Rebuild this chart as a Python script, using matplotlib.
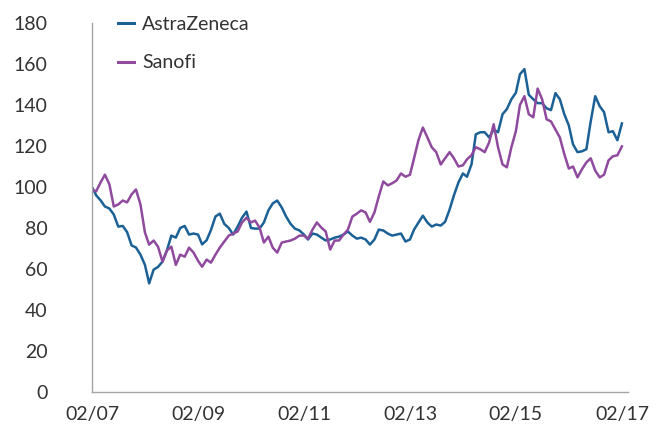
import matplotlib
matplotlib.use("Agg")
import matplotlib.pyplot as plt
import matplotlib.dates as mdates
import pandas as pd

dates = pd.date_range("2007-02-01", periods=121, freq="MS")

astrazeneca = [
    100, 96, 93.5, 90.5, 89.5, 86.6, 80.7, 81, 78, 71.5,
    70.5, 67, 62, 53, 59.7, 61, 63.6, 69, 76.3, 75.3,
    80, 81, 76.8, 77.3, 76.8, 72, 74, 79, 85.6, 87,
    82, 80, 76.8, 80.7, 85, 88, 80, 79.7, 79.7, 82.7,
    88.6, 92, 93.4, 90, 85.6, 82, 79.7, 78.8, 76.8, 74.4,
    77.3, 76.8, 75.3, 73.9, 74.4, 75.3, 75.8, 76.8, 78.3, 76.3,
    74.8, 75.3, 74.4, 71.9, 74.4, 79.2, 78.8, 77.3, 76.3, 76.8,
    77.3, 73.4, 74.4, 79.2, 82.7, 86, 82.7, 80.7, 81.7, 81.2,
    83, 89, 95.9, 102.2, 106.6, 105, 111, 125.7, 126.7, 126.7,
    124.2, 128, 126.7, 135.5, 138, 142.8, 146, 155, 157.5, 145,
    142.8, 140.9, 140.9, 138.4, 137.5, 145.8, 142.8, 135.5, 130, 120.8,
    117, 117.4, 118.4, 132, 144.3, 139.4, 136.5, 126.7, 127.2, 122.8,
    131,
]

sanofi = [
    99, 97.8, 102.2, 106, 101.3, 90.5, 91.5, 93.4, 92.5, 96.4,
    98.8, 91.5, 77.8, 71.9, 73.9, 70.9, 63.6, 69, 70.9, 62,
    67, 66, 70.4, 68, 64, 61.1, 64.6, 63.1, 67, 70.4,
    73.4, 76.3, 77.3, 78.3, 82.7, 85, 82.7, 83.6, 80.2, 72.9,
    75.8, 70.4, 68, 72.9, 73.4, 73.9, 74.8, 76.3, 76.3, 74.8,
    79.2, 82.7, 80.2, 78.3, 69.5, 73.9, 73.9, 76.8, 79.2, 85.6,
    87, 88.6, 87.6, 83, 87.6, 95.4, 102.7, 100.8, 101.8, 103.2,
    106.6, 105, 106, 114, 123, 129, 124.2, 119.4, 117, 111,
    114, 117, 114, 110, 110.6, 113.5, 115.5, 119.4, 118.4, 117,
    121.8, 130.6, 119.4, 111, 109.6, 119.4, 127.2, 140, 144.3, 135.5,
    134, 148, 142.8, 133, 132, 128, 124.2, 116, 109, 110,
    104.7, 108.6, 112, 114, 108, 104.7, 106, 113, 115, 115.5,
    119.8,
]

tick_dates = pd.date_range("2007-02-01", "2017-02-01", freq="24MS")
y_ticks = [0, 20, 40, 60, 80, 100, 120, 140, 160, 180]

plt.rcParams["font.family"] = ["Lato", "DejaVu Sans"]

fig = plt.figure(figsize=(6.58, 4.38), dpi=100)
ax = fig.add_axes([92 / 658, 1 - 392 / 438, (628 - 92) / 658, (392 - 23) / 438])

az_color = "#1b6196"
sa_color = "#8f4a9e"

ax.plot(dates, astrazeneca, color=az_color, lw=1.8, label="AstraZeneca")
ax.plot(dates, sanofi, color=sa_color, lw=1.8, label="Sanofi")

ax.set_ylim(0, 180)
ax.set_xlim(pd.Timestamp("2007-02-01"), pd.Timestamp("2017-03-15"))
ax.set_yticks(y_ticks)
ax.set_xticks(tick_dates)
ax.xaxis.set_major_formatter(mdates.DateFormatter("%m/%y"))

for s in ["top", "right"]:
    ax.spines[s].set_visible(False)
for s in ["left", "bottom"]:
    ax.spines[s].set_color("#a6a6a6")
    ax.spines[s].set_linewidth(1.0)

ax.tick_params(axis="both", length=0, labelsize=14, colors="#333333")
ax.tick_params(axis="y", pad=32)
ax.tick_params(axis="x", pad=10)

leg = ax.legend(
    loc="upper left",
    bbox_to_anchor=(118 / 658, 1 - 16 / 438),
    bbox_transform=fig.transFigure,
    frameon=False,
    fontsize=14,
    handlelength=0.8,
    handletextpad=0.45,
    labelspacing=1.1,
    borderpad=0,
    borderaxespad=0,
)
for h in leg.get_lines():
    h.set_linewidth(2.2)
for t in leg.get_texts():
    t.set_color("#333333")

fig.savefig("out.png", dpi=100)
